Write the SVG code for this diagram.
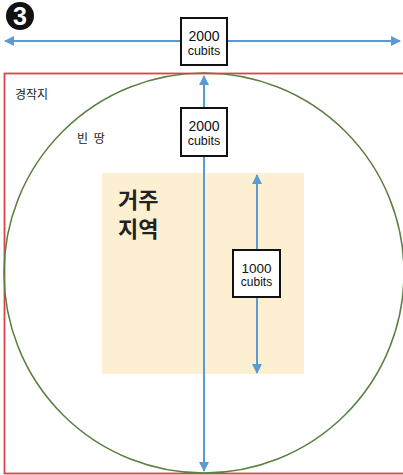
<svg xmlns="http://www.w3.org/2000/svg" width="403" height="475" viewBox="0 0 403 475">
<style>
.box{fill:#fff;stroke:#111;stroke-width:2}
.lbl{font-family:"Liberation Sans",Arial,sans-serif;fill:#111;text-anchor:middle}
.kr{font-family:"Noto Sans CJK KR","Noto Sans",sans-serif;fill:#222}
.dim{stroke:#5b9bd5;stroke-width:2;fill:none}
</style>
<defs>
<marker id="ah" viewBox="0 0 10 10" refX="9" refY="5" markerWidth="5" markerHeight="5" orient="auto-start-reverse">
<path d="M0,0 L10,5 L0,10 z" fill="#5b9bd5"/>
</marker>
</defs>
<rect width="403" height="475" fill="#fff"/>
<g id="field">
<rect x="4.5" y="73.5" width="402" height="400" fill="none" stroke="#d9434a" stroke-width="1.8"/>
<text class="kr" x="15" y="99" font-size="12">경작지</text>
</g>
<g id="empty-land">
<circle cx="204" cy="273" r="200" fill="none" stroke="#5a8040" stroke-width="1.5"/>
<text class="kr" x="77" y="143" font-size="12" word-spacing="3">빈 땅</text>
</g>
<g id="residence">
<rect x="102" y="173" width="202" height="201" fill="#fdf0d2"/>
<text class="kr" x="118" y="208" font-size="22" font-weight="bold">거주</text>
<text class="kr" x="118" y="237" font-size="22" font-weight="bold">지역</text>
</g>
<g id="connectors">
<line class="dim" x1="5" y1="41" x2="400" y2="41" marker-start="url(#ah)" marker-end="url(#ah)"/>
<line class="dim" x1="204" y1="76" x2="204" y2="471" marker-start="url(#ah)" marker-end="url(#ah)"/>
<line class="dim" x1="257" y1="175" x2="257" y2="373" marker-start="url(#ah)" marker-end="url(#ah)"/>
</g>
<g id="badge">
<circle cx="20" cy="16" r="14" fill="#111"/>
<text x="20" y="25" font-family="'Liberation Sans Narrow','Liberation Sans',Arial,sans-serif" font-size="25" font-weight="bold" fill="#fff" text-anchor="middle">3</text>
</g>
<g id="label-top">
<rect class="box" x="181" y="18" width="46" height="47"/>
<text class="lbl" x="204" y="41" font-size="14">2000</text>
<text class="lbl" x="204" y="55" font-size="12.5">cubits</text>
</g>
<g id="label-mid">
<rect class="box" x="181" y="108" width="46" height="48"/>
<text class="lbl" x="204" y="131" font-size="14">2000</text>
<text class="lbl" x="204" y="145" font-size="12.5">cubits</text>
</g>
<g id="label-inner">
<rect class="box" x="233" y="250" width="47" height="47"/>
<text class="lbl" x="256.5" y="273" font-size="13.5">1000</text>
<text class="lbl" x="256.5" y="286" font-size="12">cubits</text>
</g>
</svg>
